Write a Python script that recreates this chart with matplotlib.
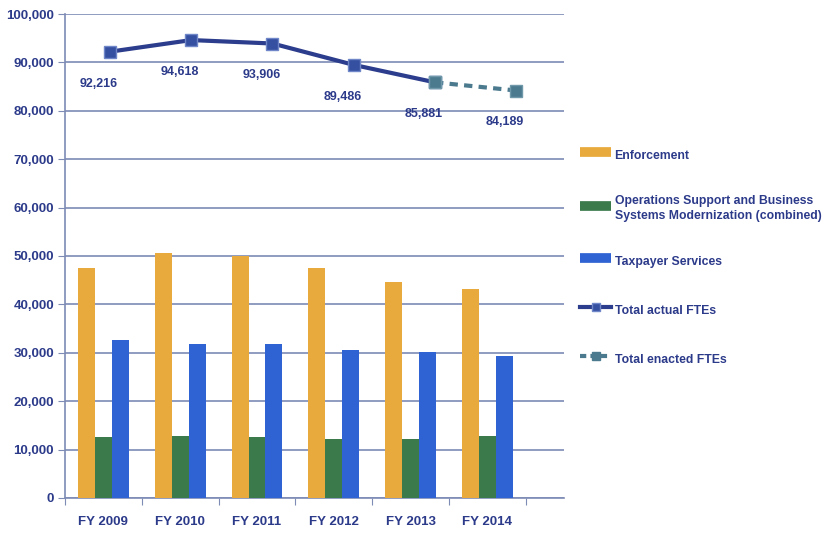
import matplotlib
matplotlib.use("Agg")
import matplotlib.pyplot as plt
from matplotlib.lines import Line2D

plt.rcParams['font.family'] = ['Liberation Sans', 'DejaVu Sans']
plt.rcParams['font.weight'] = 'bold'

years = ['FY 2009', 'FY 2010', 'FY 2011', 'FY 2012', 'FY 2013', 'FY 2014']
enforcement = [47600, 50600, 50000, 47500, 44600, 43200]
ops_support = [12600, 12800, 12600, 12200, 12200, 12800]
taxpayer = [32600, 31800, 31800, 30600, 30200, 29400]
actual_ftes = [92216, 94618, 93906, 89486, 85881]
enacted_ftes = [85881, 84189]
fte_labels = ['92,216', '94,618', '93,906', '89,486', '85,881', '84,189']

navy = '#2c3a8a'
grid_c = '#7d8bb5'
c_enf = '#e8aa3c'
c_ops = '#3b7b4b'
c_tax = '#2f62d2'
c_act = '#2b3d8c'
c_ena = '#4b7a8e'

fig = plt.figure(figsize=(8.28, 5.33), dpi=100)
ax = fig.add_axes([0.0785, 0.0657, 0.603, 0.908])

x = list(range(len(years)))
w = 0.22
ax.bar([i - w for i in x], enforcement, w, color=c_enf, zorder=3)
ax.bar(x, ops_support, w, color=c_ops, zorder=3)
ax.bar([i + w for i in x], taxpayer, w, color=c_tax, zorder=3)

ax.set_ylim(0, 100000)
ax.set_xlim(-0.5, 6.0)
ax.set_yticks(range(0, 100001, 10000))
ax.set_yticklabels(['0'] + [f'{v:,}' for v in range(10000, 100001, 10000)])
ax.set_xticks([i - 0.5 for i in range(7)], minor=False)
ax.set_xticklabels([])
ax.set_xticks(x, minor=True)
ax.set_xticklabels(years, minor=True)
ax.tick_params(axis='x', which='minor', length=0, pad=13, labelsize=9.5, labelcolor=navy)
ax.tick_params(axis='x', which='major', length=5, color=grid_c, direction='out')
ax.tick_params(axis='y', length=5, color=grid_c, labelsize=9.5, labelcolor=navy, pad=3)
ax.yaxis.grid(True, color=grid_c, linewidth=1.2, zorder=0)
for s in ['top', 'right']:
    ax.spines[s].set_visible(False)
for s in ['left', 'bottom']:
    ax.spines[s].set_color(grid_c)
    ax.spines[s].set_linewidth(1.2)

# line series sits on its own x scale
lx = fig.add_axes(ax.get_position(), frameon=False)
lx.set_xlim(-0.553, 5.59)
lx.set_ylim(0, 100000)
lx.set_xticks([])
lx.set_yticks([])
lx.plot(range(5), actual_ftes, color=c_act, lw=3, marker='s', ms=9,
        mfc='#3550a0', mec='#6f86c8', zorder=5)
lx.plot([4, 5], enacted_ftes, color=c_ena, lw=3, ls=(0, (2, 1.5)), marker='s', ms=9,
        mfc=c_ena, mec='#6f98a8', zorder=4)
lx.plot([4], [actual_ftes[-1]], marker='s', ms=9, mfc=c_ena, mec='#6f98a8', zorder=6)
all_vals = actual_ftes + enacted_ftes[1:]
for i, (v, t) in enumerate(zip(all_vals, fte_labels)):
    lx.annotate(t, (i, v), xytext=(-8, -23), textcoords='offset points',
                ha='center', va='center', fontsize=9, color=navy)

handles = [
    Line2D([], [], color=c_enf, lw=7, solid_capstyle='butt'),
    Line2D([], [], color=c_ops, lw=7, solid_capstyle='butt'),
    Line2D([], [], color=c_tax, lw=7, solid_capstyle='butt'),
    Line2D([], [], color=c_act, lw=3, marker='s', ms=6, mfc='#3550a0', mec='#6f86c8'),
    Line2D([], [], color=c_ena, lw=3, ls=(0, (1.5, 1)), marker='s', ms=6, mfc=c_ena),
]
labels = ['Enforcement', 'Operations Support and Business\nSystems Modernization (combined)',
          'Taxpayer Services', 'Total actual FTEs', 'Total enacted FTEs']
leg = fig.legend(handles, labels, loc='upper left', bbox_to_anchor=(0.695, 0.736),
                 frameon=False, fontsize=8.8, labelspacing=2.4, handlelength=2.5,
                 handleheight=2.1, handletextpad=0.3, borderaxespad=0)
for t in leg.get_texts():
    t.set_color(navy)
    t.set_linespacing(1.35)

fig.savefig('out.png', dpi=100)
